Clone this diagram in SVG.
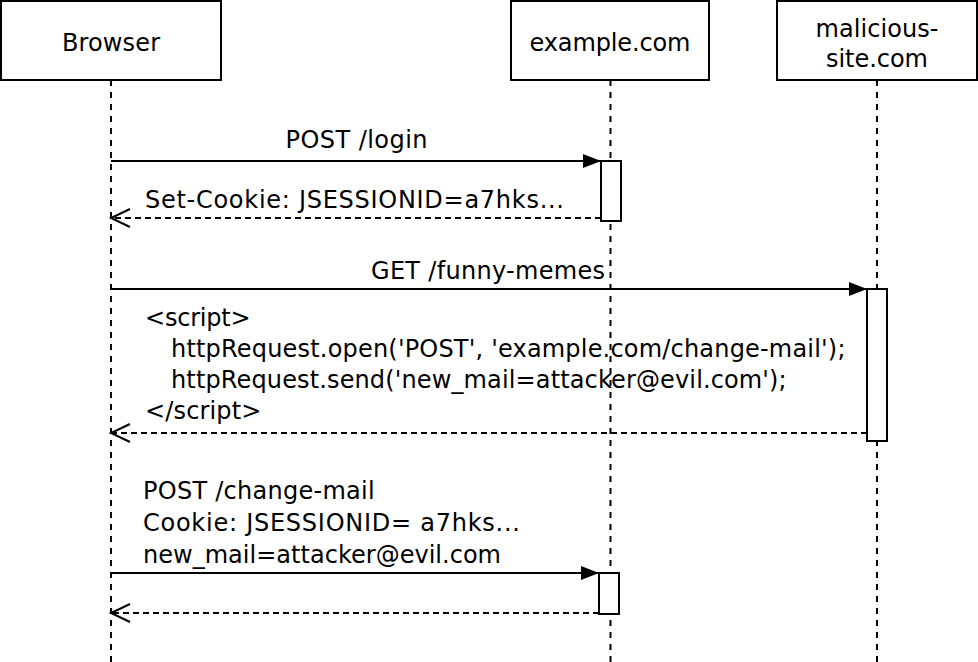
<svg xmlns="http://www.w3.org/2000/svg" width="978" height="662" viewBox="0 0 978 662">
<style>
  .box { fill: #ffffff; stroke: #000000; stroke-width: 2; }
  .life { fill: none; stroke: #000000; stroke-width: 2; stroke-dasharray: 6 6; }
  .act { fill: #ffffff; stroke: #000000; stroke-width: 2; }
  .msg { fill: none; stroke: #000000; stroke-width: 2; }
  .ret { fill: none; stroke: #000000; stroke-width: 2; stroke-dasharray: 6 4; }
  text { font-family: "DejaVu Sans", Verdana, sans-serif; font-size: 24px; fill: #000000; }
  .c { text-anchor: middle; }
</style>
<defs>
  <marker id="filled" markerUnits="userSpaceOnUse" viewBox="0 0 18 14" refX="18" refY="7" markerWidth="18" markerHeight="14" orient="auto">
    <path d="M0,0 L18,7 L0,14 Z" fill="#000000"/>
  </marker>
  <marker id="open" markerUnits="userSpaceOnUse" viewBox="0 0 22 20" refX="20" refY="10" markerWidth="22" markerHeight="20" orient="auto" overflow="visible">
    <path d="M1,1 L20,10 L1,19" fill="none" stroke="#000000" stroke-width="2"/>
  </marker>
</defs>

<g id="lifelines">
  <line class="life" x1="111" y1="80" x2="111" y2="662"/>
  <line class="life" x1="610.5" y1="80" x2="610.5" y2="662"/>
  <line class="life" x1="877" y1="80" x2="877" y2="662"/>
</g>

<g id="node-browser">
  <rect class="box" x="1" y="1" width="220" height="79"/>
  <text class="c" x="111" y="51" textLength="98">Browser</text>
</g>
<g id="node-example">
  <rect class="box" x="511" y="1" width="198" height="79"/>
  <text class="c" x="610" y="51" textLength="161">example.com</text>
</g>
<g id="node-malicious">
  <rect class="box" x="777" y="1" width="200" height="79"/>
  <text class="c" x="877" y="37" textLength="123">malicious-</text>
  <text class="c" x="877" y="67" textLength="102">site.com</text>
</g>

<g id="activation-example-1">
  <rect class="act" x="601" y="161" width="20" height="60"/>
</g>
<g id="activation-malicious">
  <rect class="act" x="867" y="289" width="20" height="152"/>
</g>
<g id="activation-example-2">
  <rect class="act" x="599" y="573" width="20" height="41"/>
</g>

<g id="connectors">
  <line class="msg" x1="111" y1="161" x2="601" y2="161" marker-end="url(#filled)"/>
  <line class="ret" x1="601" y1="218" x2="111" y2="218" marker-end="url(#open)"/>
  <line class="msg" x1="111" y1="289" x2="867" y2="289" marker-end="url(#filled)"/>
  <line class="ret" x1="867" y1="433" x2="111" y2="433" marker-end="url(#open)"/>
  <line class="msg" x1="111" y1="573" x2="599" y2="573" marker-end="url(#filled)"/>
  <line class="ret" x1="599" y1="613" x2="111" y2="613" marker-end="url(#open)"/>
</g>

<g id="labels">
  <text class="c" x="356.5" y="148" textLength="142">POST /login</text>
  <text x="145" y="208" textLength="419">Set-Cookie: JSESSIONID=a7hks...</text>
  <text class="c" x="488" y="279" textLength="234">GET /funny-memes</text>
  <text x="145" y="326" textLength="105.5">&lt;script&gt;</text>
  <text x="171" y="357" textLength="674.5">httpRequest.open('POST', 'example.com/change-mail');</text>
  <text x="171" y="388" textLength="615.7">httpRequest.send('new_mail=attacker@evil.com');</text>
  <text x="145" y="419" textLength="116.4">&lt;/script&gt;</text>
  <text x="143" y="499" textLength="231.7">POST /change-mail</text>
  <text x="143" y="531" textLength="377">Cookie: JSESSIONID= a7hks...</text>
  <text x="143" y="563" textLength="358">new_mail=attacker@evil.com</text>
</g>
</svg>
